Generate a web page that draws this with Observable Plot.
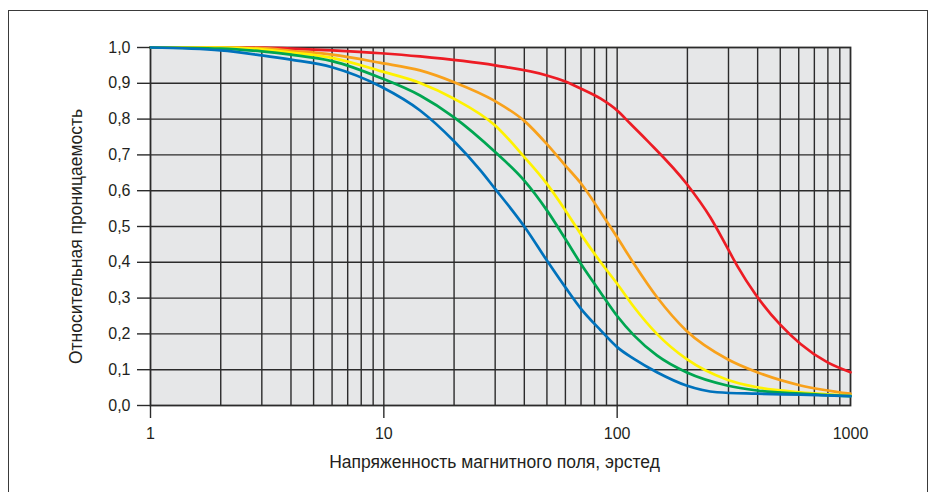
<!DOCTYPE html>
<html><head><meta charset="utf-8">
<script src="https://cdn.jsdelivr.net/npm/d3@7"></script>
<script src="https://cdn.jsdelivr.net/npm/@observablehq/plot@0.6"></script>
<style>
html,body{margin:0;padding:0;background:#fff;overflow:hidden;}
#wrap{position:relative;width:934px;height:492px;}
#border{position:absolute;left:8px;top:10px;width:918px;height:520px;border:1.5px solid #3a3a3a;pointer-events:none;}
</style></head><body><div id="wrap"><div id="border"></div></div>
<script>
// Data
const seriesNames = ["S1", "S2", "S3", "S4", "S5"];
const seriesColors = ["#ed1c24", "#f8a11b", "#fff200", "#00a651", "#0072bc"];

const hRed = [1,2,3,4,6,9.7,14.3,30,50,60,70,85,100,114,134.5,198,251,294,327,392,501,611,794,1000];
const muRed = [1,1,1,0.997,0.992,0.984,0.975,0.95,0.922,0.905,0.885,0.857,0.824,0.787,0.74,0.62,0.525,0.445,0.39,0.31,0.225,0.172,0.121,0.093];

const hOrange = [1,2,3,4,6,9.7,14.3,20,30,40,50,60,70,85,100,118,148,198,296,398,611,1000];
const muOrange = [1,1,0.998,0.991,0.98,0.957,0.936,0.903,0.85,0.795,0.73,0.67,0.62,0.54,0.47,0.396,0.303,0.209,0.13,0.093,0.056,0.033];

const hYellow = [1,2,3,4,6,9.7,14.3,20,30,40,50,60,70,85,100,118,148,198,296,398,611,1000];
const muYellow = [1,1,0.995,0.986,0.971,0.934,0.901,0.857,0.782,0.694,0.619,0.545,0.478,0.40,0.34,0.275,0.2,0.13,0.072,0.051,0.037,0.028];

const hGreen = [1,2,3,4,6,9.7,14.3,20,30,40,50,60,70,85,100,118,148,198,296,398,611,1000];
const muGreen = [1,0.997,0.989,0.98,0.962,0.915,0.866,0.805,0.708,0.628,0.545,0.465,0.395,0.315,0.25,0.196,0.14,0.093,0.056,0.042,0.033,0.026];

const hBlue = [1,2,3,4,6,9.7,14.3,20,26,30,35.5,40,50,60,70,85,100,118,148,198,268,398,611,1000];
const muBlue = [1,0.992,0.978,0.966,0.945,0.891,0.824,0.738,0.656,0.605,0.545,0.50,0.405,0.33,0.27,0.21,0.163,0.13,0.093,0.056,0.037,0.033,0.030,0.026];

const gridX = [2,3,4,5,6,7,8,9,10,20,30,40,50,60,70,80,90,100,200,300,400,500,600,700,800,900];
const gridY = [0.1,0.2,0.3,0.4,0.5,0.6,0.7,0.8,0.9];
const yTicks = [0,0.1,0.2,0.3,0.4,0.5,0.6,0.7,0.8,0.9,1.0];
const xTickMarks = [1,10,100];
const xTickLabels = [1,10,100,1000];
const xTitle = "Напряженность магнитного поля, эрстед";
const yTitle = "Относительная проницаемость";

const hs = [hRed, hOrange, hYellow, hGreen, hBlue];
const mus = [muRed, muOrange, muYellow, muGreen, muBlue];
const data = seriesNames.flatMap((s, i) => hs[i].map((h, j) => ({series: s, H: h, mu: mus[i][j]})));

const ink = "#231f20";
const gridColor = "#2b2b2b";
const font = "'Liberation Sans', Arial, sans-serif";

const chart = Plot.plot({
  width: 934,
  height: 492,
  marginLeft: 150,
  marginRight: 84,
  marginTop: 47,
  marginBottom: 87,
  style: {fontFamily: font, fontSize: "16px", color: ink, background: "transparent"},
  x: {type: "log", domain: [1, 1000], axis: null},
  y: {domain: [0, 1], axis: null},
  color: {domain: seriesNames, range: seriesColors},
  marks: [
    Plot.frame({fill: "#e6e7e8"}),
    Plot.ruleX(gridX, {stroke: gridColor, strokeWidth: 1.4}),
    Plot.ruleY(gridY, {stroke: gridColor, strokeWidth: 1.4}),
    Plot.frame({stroke: gridColor, strokeWidth: 1.8}),
    Plot.line(data, {x: "H", y: "mu", z: "series", stroke: "series", strokeWidth: 2.7, curve: "monotone-x"}),
    Plot.axisY({ticks: yTicks, tickSize: 13, tickPadding: 7, stroke: gridColor, strokeWidth: 1.4,
      tickFormat: d => d.toFixed(1).replace(".", ","), fontSize: 16, fill: ink, label: null}),
    Plot.axisX({ticks: xTickMarks, tickSize: 13, stroke: gridColor, strokeWidth: 1.4, tickFormat: () => "", label: null}),
    Plot.axisX({ticks: xTickLabels, tickSize: 0, tickPadding: 22, tickFormat: d => String(d), fontSize: 16, fill: ink, label: null}),
    Plot.text([xTitle], {frameAnchor: "bottom", text: d => d, dy: 62, dx: -6, fontSize: 17.5, fill: ink}),
    Plot.text([yTitle], {frameAnchor: "left", textAnchor: "middle", text: d => d, rotate: -90, dx: -74, dy: 10, fontSize: 17.5, fill: ink})
  ]
});
document.getElementById("wrap").appendChild(chart);
chart.style.position = "absolute";
chart.style.left = "0px";
chart.style.top = "0px";
</script>
</body></html>
